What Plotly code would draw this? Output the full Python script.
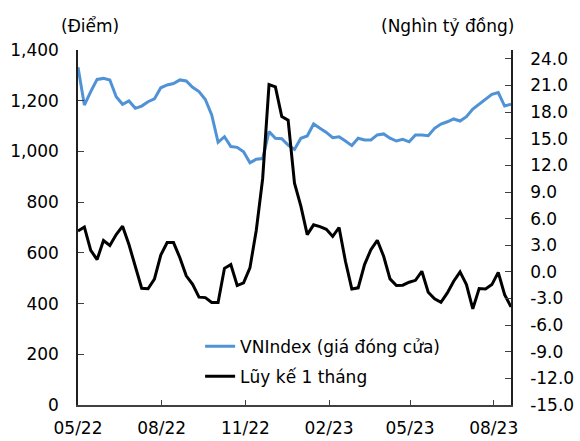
import pandas as pd
import plotly.graph_objects as go

# Weekly observations
dates = pd.date_range("2022-05-06", periods=69, freq="7D")

vnindex = [1332, 1183, 1236, 1284, 1288, 1282, 1216, 1186, 1199, 1170,
           1179, 1196, 1207, 1251, 1262, 1268, 1282, 1278, 1253, 1236,
           1205, 1144, 1036, 1058, 1019, 1016, 999, 955, 969, 972,
           1078, 1052, 1050, 1025, 1008, 1052, 1061, 1108, 1091, 1075,
           1054, 1058, 1041, 1023, 1052, 1045, 1045, 1065, 1069, 1052,
           1041, 1048, 1038, 1065, 1065, 1062, 1091, 1108, 1117, 1128,
           1120, 1137, 1167, 1186, 1205, 1225, 1232, 1179, 1186]

luy_ke = [4.6, 5.05, 2.43, 1.39, 3.53, 2.97, 4.2, 5.15, 3.08, 0.75,
          -1.85, -1.9, -0.82, 1.9, 3.3, 3.3, 1.6, -0.45, -1.4, -2.85,
          -2.9, -3.45, -3.45, 0.4, 0.82, -1.54, -1.24, 0.45, 4.7, 10.5,
          21.1, 20.85, 17.5, 17.1, 10.0, 7.4, 4.2, 5.3, 5.1, 4.8,
          4.0, 5.0, 1.2, -1.92, -1.8, 0.82, 2.51, 3.56, 1.76, -0.79,
          -1.54, -1.5, -1.17, -0.95, 0.07, -2.3, -3.04, -3.43, -2.37, -1.06,
          0.0, -1.43, -4.17, -1.88, -1.92, -1.43, -0.05, -2.56, -3.95]

x_tick_dates = ["2022-05-06", "2022-08-06", "2022-11-06", "2023-02-06", "2023-05-06", "2023-08-06"]
x_tick_labels = ["05/22", "08/22", "11/22", "02/23", "05/23", "08/23"]
left_ticks = [0, 200, 400, 600, 800, 1000, 1200, 1400]
left_labels = ["0", "200", "400", "600", "800", "1,000", "1,200", "1,400"]
right_ticks = [-15, -12, -9, -6, -3, 0, 3, 6, 9, 12, 15, 18, 21, 24]
right_labels = ["-15.0", "-12.0", "-9.0", "-6.0", "-3.0", "0.0", "3.0", "6.0",
                "9.0", "12.0", "15.0", "18.0", "21.0", "24.0"]

FONT = "DejaVu Sans"
FS = 17
fig = go.Figure()
fig.add_trace(go.Scatter(x=dates, y=vnindex, mode="lines", name="VNIndex (giá đóng cửa)",
                         line=dict(color="#5092D6", width=3), legendgroup="a"))
fig.add_trace(go.Scatter(x=dates, y=luy_ke, mode="lines", name="Lũy kế 1 tháng",
                         line=dict(color="#000000", width=3), yaxis="y2", legendgroup="b"))

fig.update_layout(
    width=580, height=441,
    margin=dict(l=78, r=69, t=50, b=36, autoexpand=False),
    paper_bgcolor="white", plot_bgcolor="white",
    font=dict(family=FONT, size=FS, color="#000000"),
    showlegend=True,
    legend=dict(x=0.282, y=0.215, xanchor="left", yanchor="top",
                bgcolor="rgba(0,0,0,0)", font=dict(size=FS),
                traceorder="grouped", tracegroupgap=5),
    xaxis=dict(type="date", range=[dates[0], dates[-1]],
               tickvals=x_tick_dates, ticktext=x_tick_labels,
               ticks="inside", ticklen=5, tickcolor="#404040",
               showline=True, linecolor="#404040", linewidth=1.5,
               showgrid=False, zeroline=False, ticklabelstandoff=7, automargin=False),
    yaxis=dict(range=[0, 1400], tickvals=left_ticks, ticktext=left_labels,
               ticks="inside", ticklen=6, tickcolor="#404040",
               showline=True, linecolor="#202020", linewidth=1.5,
               showgrid=False, zeroline=False, ticklabelstandoff=14, automargin=False),
    yaxis2=dict(range=[-15, 25], tickvals=right_ticks, ticktext=right_labels,
                overlaying="y", side="right",
                ticks="inside", ticklen=6, tickcolor="#404040",
                showline=True, linecolor="#202020", linewidth=1.5,
                showgrid=False, zeroline=False, ticklabelstandoff=14, automargin=False),
    annotations=[
        dict(text="(Điểm)", xref="paper", yref="paper", x=0.027, y=1.068,
             showarrow=False, xanchor="center", yanchor="middle", font=dict(size=FS)),
        dict(text="(Nghìn tỷ đồng)", xref="paper", yref="paper", x=0.853, y=1.068,
             showarrow=False, xanchor="center", yanchor="middle", font=dict(size=FS)),
    ],
)

fig.write_html("out.html", config={"displayModeBar": False},
               post_script="document.body.style.margin='0';document.body.style.padding='0';")
